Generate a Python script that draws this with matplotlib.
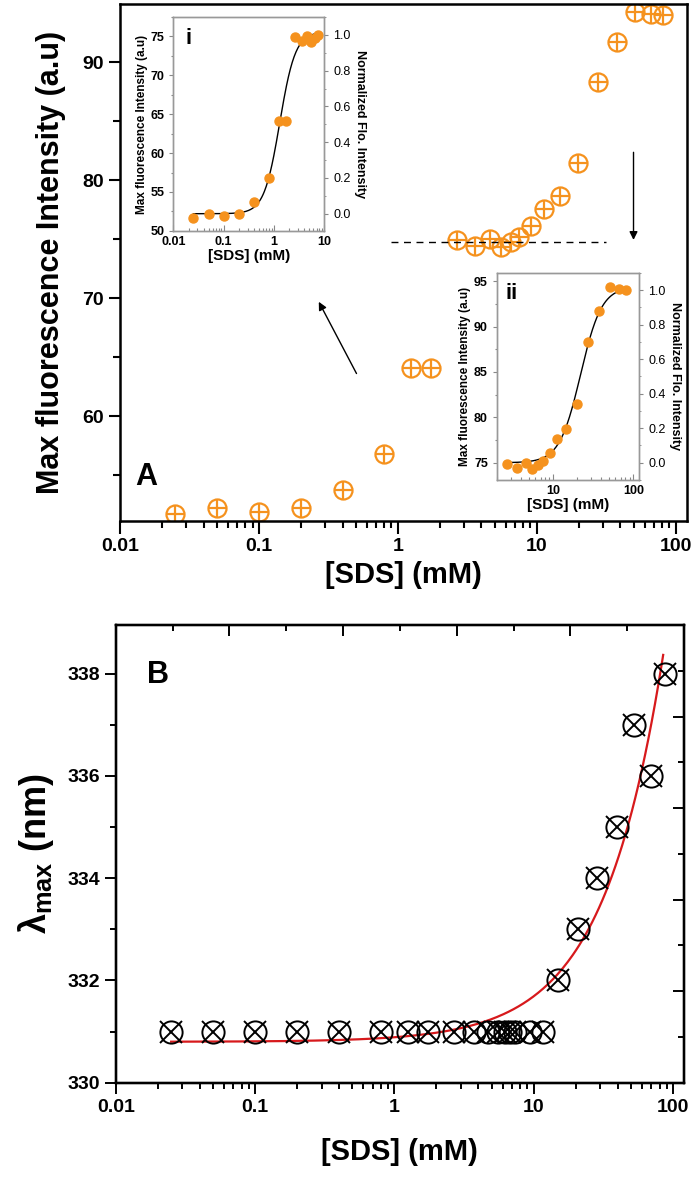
import matplotlib
matplotlib.use("Agg")
import matplotlib.pyplot as plt
from matplotlib.ticker import LogLocator, MultipleLocator, NullFormatter, FixedLocator
import numpy as np

plt.rcParams['font.family'] = ['Liberation Sans', 'DejaVu Sans']
plt.rcParams['font.weight'] = 'bold'
plt.rcParams['mathtext.fontset'] = 'custom'
plt.rcParams['mathtext.rm'] = 'Liberation Sans:bold'
plt.rcParams['mathtext.bf'] = 'Liberation Sans:bold'
plt.rcParams['mathtext.it'] = 'Liberation Sans:bold'

# ---- panel A data: SDS conc (mM) vs max fluorescence intensity ----
sds_a = [0.025, 0.05, 0.1, 0.2, 0.4, 0.8, 1.25, 1.72, 2.67, 3.6, 4.6, 5.5, 6.5, 7.4,
         9.1, 11.2, 14.6, 19.9, 27.4, 37.6, 50.7, 66.0, 80.9]
fluo_a = [51.7, 52.2, 51.9, 52.2, 53.7, 56.8, 64.1, 64.1, 74.9, 74.4, 75.0, 74.3, 74.8, 75.2,
          76.1, 77.6, 78.7, 81.5, 88.3, 91.7, 94.3, 94.1, 94.0]

# inset fits (Hill type)
fit_i = dict(low=52.2, high=75.6, k=1.3, n=2.8, xmin=0.025, xmax=8.0)
fit_ii = dict(low=75.0, high=94.4, k=22.0, n=3.3, xmin=2.67, xmax=85.0)
norm_i = (52.2, 75.2)    # intensity at normalized 0 and 1
norm_ii = (75.0, 94.0)

plateau_y = 74.75
plateau_x = (0.89, 31.4)

# ---- panel B data: lambda max ----
sds_b = [0.025, 0.05, 0.1, 0.2, 0.4, 0.8, 1.25, 1.75, 2.7, 3.7, 4.7, 5.5, 6.2, 6.8, 7.3,
         9.4, 11.6, 15.0, 20.8, 28.6, 39.4, 52.9, 69.5, 86.9]
lmax_b = [331, 331, 331, 331, 331, 331, 331, 331, 331, 331, 331, 331, 331, 331, 331,
          331, 331, 332, 333, 334, 335, 337, 336, 338]
fit_b = dict(a=330.8, b=0.089, xmin=0.025, xmax=85.0)

orange = '#F5921E'

fig = plt.figure(figsize=(7, 11.77), dpi=100)


def hill(x, p):
    return p['low'] + (p['high'] - p['low']) * x ** p['n'] / (p['k'] ** p['n'] + x ** p['n'])


def log_ticks(ax, direction, major_len, minor_len):
    ax.xaxis.set_major_locator(LogLocator(base=10, numticks=10))
    ax.xaxis.set_minor_locator(LogLocator(base=10, subs=np.arange(2, 10), numticks=10))
    ax.xaxis.set_minor_formatter(NullFormatter())
    ax.xaxis.set_major_formatter(plt.FuncFormatter(lambda v, pos: '%g' % v))
    ax.tick_params(axis='x', which='major', direction=direction, length=major_len)
    ax.tick_params(axis='x', which='minor', direction=direction, length=minor_len)


# ================= panel A =================
axA = fig.add_axes([0.1714, 0.5573, 0.8096, 0.4389])
axA.plot(sds_a, fluo_a, 'o', ms=13, mfc='none', mec=orange, mew=1.6, ls='none')
axA.plot(sds_a, fluo_a, '+', ms=13, mec=orange, mew=1.6, ls='none')
axA.set_xscale('log')
axA.set_xlim(0.01, 120)
axA.set_ylim(51.1, 94.9)
log_ticks(axA, 'out', 9, 5)
axA.yaxis.set_major_locator(MultipleLocator(10))
axA.yaxis.set_minor_locator(MultipleLocator(5))
axA.tick_params(axis='y', which='major', direction='out', length=8)
axA.tick_params(axis='y', which='minor', direction='out', length=5)
axA.tick_params(which='both', width=1.5, labelsize=14, top=False, right=False)
for s in axA.spines.values():
    s.set_linewidth(1.8)
axA.set_xlabel('[SDS] (mM)', fontsize=21, fontweight='bold', labelpad=4)
axA.set_ylabel('Max fluorescence Intensity (a.u)', fontsize=22, fontweight='bold', labelpad=12)
axA.text(0.047, 0.085, 'A', transform=axA.transAxes, fontsize=22, fontweight='bold',
         ha='center', va='center')
axA.plot(plateau_x, [plateau_y, plateau_y], ls=(0, (5, 4)), color='black', lw=1)
axA.annotate('', xy=(0.264, 69.9), xytext=(0.515, 63.4),
             arrowprops=dict(arrowstyle='-|>', color='black', lw=1, mutation_scale=12))
axA.annotate('', xy=(49.7, 74.7), xytext=(49.7, 82.6),
             arrowprops=dict(arrowstyle='-|>', color='black', lw=1, mutation_scale=12))


def inset(rect, x, y, p, norm, xlim, ylim, yticks, tag):
    ax = fig.add_axes(rect)
    xs = np.logspace(np.log10(p['xmin']), np.log10(p['xmax']), 200)
    ax.plot(xs, hill(xs, p), color='black', lw=1)
    ax.plot(x, y, 'o', ms=6.5, color=orange, ls='none')
    ax.set_xscale('log')
    ax.set_xlim(*xlim)
    ax.set_ylim(*ylim)
    log_ticks(ax, 'in', 4, 2)
    ax.set_yticks(yticks)
    ax.yaxis.set_minor_locator(MultipleLocator(2.5))
    ax.tick_params(axis='y', which='major', direction='out', length=3)
    ax.tick_params(axis='y', which='minor', direction='out', length=1.5)
    ax.tick_params(which='both', color='#888888', width=0.8)
    ax.tick_params(labelsize=9)
    for s in ax.spines.values():
        s.set_color('#999999')
        s.set_linewidth(1)
    ax.set_xlabel('[SDS] (mM)', fontsize=11, fontweight='bold', labelpad=1)
    ax.set_ylabel('Max fluorescence Intensity (a.u)', fontsize=8.5, fontweight='bold', labelpad=2)
    ax.text(0.1, 0.9, tag, transform=ax.transAxes, fontsize=16, fontweight='bold',
            ha='center', va='center')
    ax2 = ax.twinx()
    span = norm[1] - norm[0]
    ax2.set_ylim((ylim[0] - norm[0]) / span, (ylim[1] - norm[0]) / span)
    ax2.yaxis.set_major_locator(MultipleLocator(0.2))
    ax2.yaxis.set_minor_locator(MultipleLocator(0.1))
    ax2.yaxis.set_major_formatter(plt.FuncFormatter(lambda v, pos: '%.1f' % (abs(v) if abs(v) < 1e-9 else v)))
    ax2.tick_params(axis='y', which='major', direction='out', length=3, color='#888888', labelsize=9)
    ax2.tick_params(axis='y', which='minor', direction='out', length=1.5, color='#888888')
    for lbl in ax2.get_yticklabels():
        lbl.set_fontweight('normal')
    for s in ax2.spines.values():
        s.set_color('#999999')
        s.set_linewidth(1)
    ax2.set_ylabel('Normalized Flo. Intensity', fontsize=9, fontweight='bold', rotation=270, labelpad=11)
    return ax


inset([0.2477, 0.8039, 0.2156, 0.1816], sds_a[:14], fluo_a[:14], fit_i, norm_i,
      (0.01, 10), (50, 77.5), [50, 55, 60, 65, 70, 75], 'i')
inset([0.71, 0.5922, 0.2029, 0.1759], sds_a[8:], fluo_a[8:], fit_ii, norm_ii,
      (2.0, 118), (73.1, 95.9), [75, 80, 85, 90, 95], 'ii')

# ================= panel B =================
axB = fig.add_axes([0.1653, 0.0801, 0.8119, 0.3889])
xb = np.logspace(np.log10(fit_b['xmin']), np.log10(fit_b['xmax']), 300)
axB.plot(xb, fit_b['a'] + fit_b['b'] * xb, color='#D7191C', lw=1.6, zorder=3)
axB.plot(sds_b, lmax_b, 'o', ms=16, mfc='none', mec='black', mew=1.4, ls='none', zorder=4)
axB.plot(sds_b, lmax_b, 'x', ms=16, mec='black', mew=1.4, ls='none', zorder=4)
axB.set_xscale('log')
axB.set_xlim(0.01, 120)
axB.set_ylim(330, 338.95)
log_ticks(axB, 'out', 8, 4)
axB.yaxis.set_major_locator(MultipleLocator(2))
axB.yaxis.set_minor_locator(MultipleLocator(1))
axB.tick_params(axis='y', which='major', direction='out', length=8)
axB.tick_params(axis='y', which='minor', direction='out', length=4)
axB.tick_params(which='both', width=1.4, labelsize=14, top=False, right=False)
for s in axB.spines.values():
    s.set_linewidth(1.6)
axB.set_xlabel('[SDS] (mM)', fontsize=21, fontweight='bold', labelpad=16)
axB.set_ylabel('λ$_{max}$ (nm)', fontsize=26, fontweight='bold', labelpad=8)
axB.text(0.074, 0.89, 'B', transform=axB.transAxes, fontsize=22, fontweight='bold',
         ha='center', va='center')

# inward tick marks on top and right spines
axT = axB.twiny()
axT.set_xlim(0, 10)
axT.xaxis.set_major_locator(FixedLocator([2, 4, 6, 8]))
axT.xaxis.set_minor_locator(FixedLocator([1, 3, 5, 7, 9]))
axT.tick_params(axis='x', which='major', direction='in', length=8, width=1.4, labeltop=False)
axT.tick_params(axis='x', which='minor', direction='in', length=4, width=1.4)
axR = axB.twinx()
axR.set_ylim(0, 10)
axR.yaxis.set_major_locator(FixedLocator([2, 4, 6, 8]))
axR.yaxis.set_minor_locator(FixedLocator([1, 3, 5, 7, 9]))
axR.tick_params(axis='y', which='major', direction='in', length=8, width=1.4, labelright=False)
axR.tick_params(axis='y', which='minor', direction='in', length=4, width=1.4)
for a in (axT, axR):
    for s in a.spines.values():
        s.set_linewidth(1.6)

fig.savefig('out.png', dpi=100)
